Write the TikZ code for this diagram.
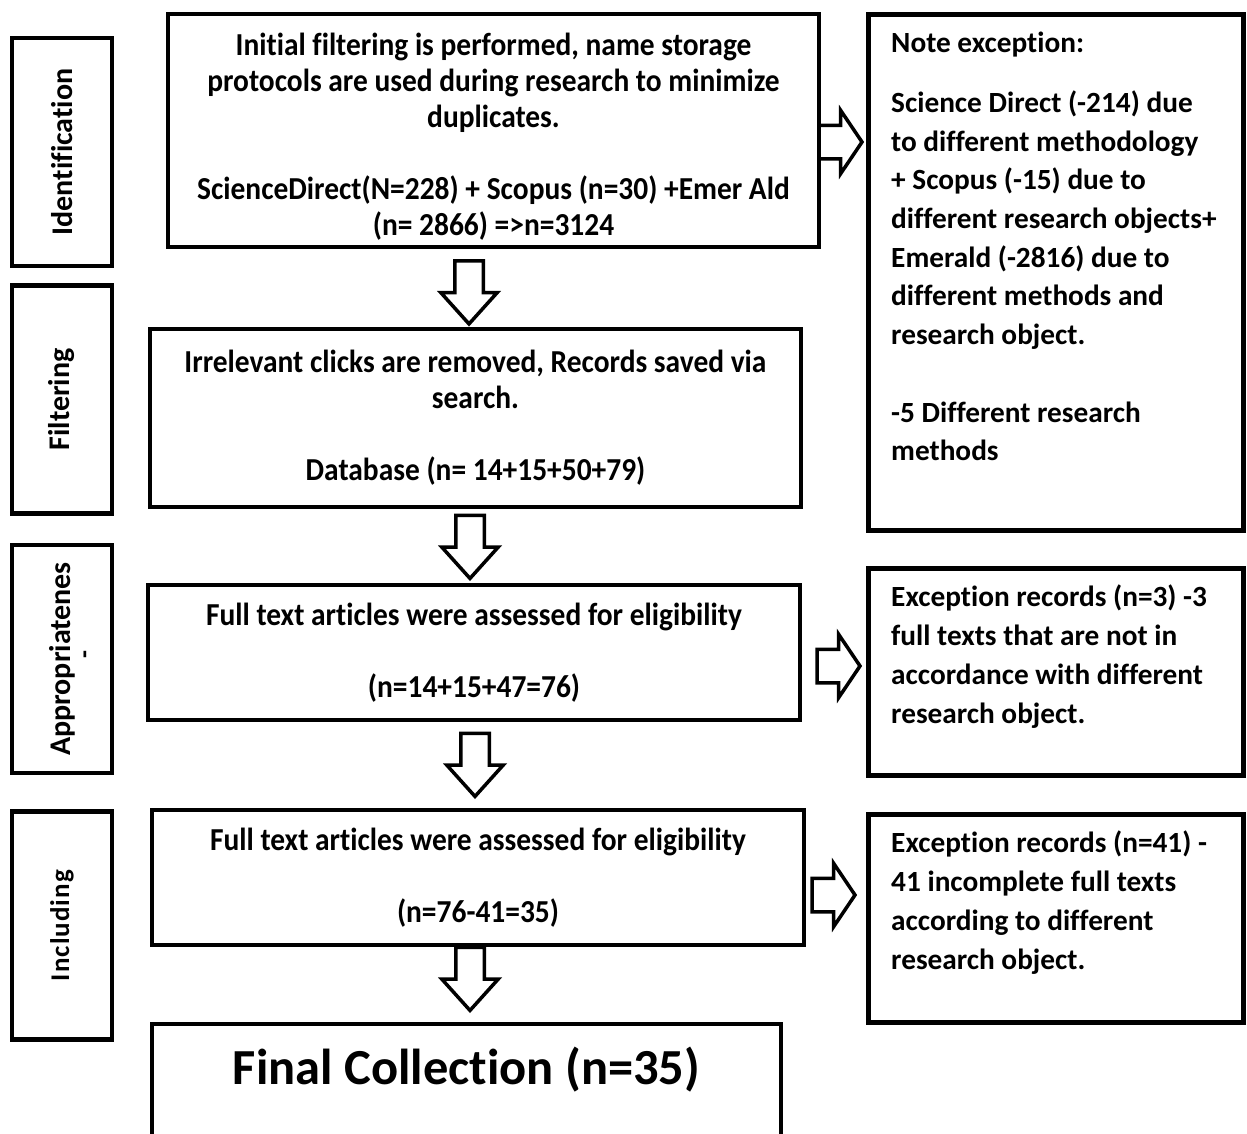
\documentclass[tikz,border=0pt]{standalone}
\usepackage{fontspec}
\setmainfont{Carlito}[Ligatures={NoCommon}]
\newfontfamily\narrowfont{Carlito}[FakeStretch=0.92, Ligatures={NoCommon}]
\usetikzlibrary{positioning}
\usetikzlibrary{calc}
\usetikzlibrary{shapes.arrows}
\tikzset{node distance=20pt, every text node part/.style={align=center}}
\tikzstyle{stagebox} = [draw, line width=4.5pt, rotate=90, minimum width=228pt, minimum height=100pt, inner sep=0pt, font={\fontsize{30}{34}\selectfont\bfseries}]
\tikzstyle{mainbox} = [draw, line width=4.5pt, inner sep=0pt, font={\narrowfont\fontsize{32}{36}\selectfont\bfseries}]
\tikzstyle{notebox} = [draw, line width=4.5pt, minimum width=375pt, inner sep=0pt]
\tikzstyle{notetext} = [anchor=north west, inner sep=0pt, every text node part/.style={align=left}, font={\fontsize{29.3}{38.7}\selectfont\bfseries}]
\tikzstyle{dnarrow} = [single arrow, draw, line width=3.5pt, rotate=-90, minimum height=63pt, inner xsep=0pt, inner ysep=12.5pt, single arrow head extend=14pt, single arrow tip angle=84]
\tikzstyle{rtarrow} = [single arrow, draw, line width=3.5pt, anchor=west, minimum height=43pt, inner xsep=0pt, inner ysep=15pt, single arrow head extend=15pt, single arrow tip angle=112]

\begin{document}
\begin{tikzpicture}[x=1pt, y=-1pt]
      \useasboundingbox (0,0) rectangle (1247,1133);
      \clip (0,0) rectangle (1247,1133);
      % stages
      \node[stagebox]          (sid)   at (62,152)     {Identification};
      \node[stagebox]          (sfil)  at (62,399.5)   {Filtering};
      \node[stagebox]          (sapp)  at (62,659)     {Appropriatenes};
      \node[stagebox, font={\fontsize{27}{30}\selectfont\bfseries\addfontfeatures{LetterSpace=4}}] (sinc) at (62,925.5) {Including};
      \node[rotate=90, inner sep=0pt, font={\fontsize{26}{30}\selectfont\bfseries}] (sdash) at ([xshift=26pt, yshift=4pt]sapp.center) {-};
      % main column
      \node[mainbox, minimum width=651pt, minimum height=233pt] (ident) at (493.5,130.5)
           {\rule{0pt}{34pt}Initial filtering is performed, name storage\\protocols are used during research to minimize\\duplicates.\\[36pt]ScienceDirect(N=228) + Scopus (n=30) +Emer Ald\\(n= 2866) =>n=3124};
      \node[mainbox, minimum width=651pt, minimum height=178pt] (filt) [below=77.5pt of ident, xshift=-18pt]
           {Irrelevant clicks are removed, Records saved via\\search.\\[36pt]Database (n= 14+15+50+79)};
      \node[mainbox, minimum width=652pt, minimum height=135pt] (appr) [below=73.5pt of filt, xshift=-1.5pt]
           {Full text articles were assessed for eligibility\\[36pt](n=14+15+47=76)};
      \node[mainbox, minimum width=652pt, minimum height=135pt] (incl) [below=85.5pt of appr, xshift=4pt]
           {Full text articles were assessed for eligibility\\[36pt](n=76-41=35)};
      \node[mainbox, minimum width=629pt, inner ysep=19pt, text height=41pt, text depth=60pt, font={\fontsize{50.5}{56}\selectfont\bfseries}] (final) [below=74.5pt of incl, xshift=-11.5pt]
           {Final Collection (n=35)};
      % exclusions
      \node[notebox, minimum height=516pt, anchor=north west] (excl) at (866,12) {};
      \node[notebox, minimum height=207pt] (exa) [below=33.5pt of excl] {};
      \node[notebox, minimum height=208pt] (exb) [below=34.5pt of exa] {};
      \node[notetext] (excltext) at ([xshift=25pt, yshift=-20pt]excl.north west)
           {Note exception:\\[21pt]Science Direct (-214) due\\to different methodology\\+ Scopus (-15) due to\\different research objects+\\Emerald (-2816) due to\\different methods and\\research object.\\[38.7pt]-5 Different research\\methods};
      \node[notetext] (exatext) at ([xshift=25pt, yshift=-19pt]exa.north west)
           {Exception records (n=3) -3\\full texts that are not in\\accordance with different\\research object.};
      \node[notetext] (exbtext) at ([xshift=25pt, yshift=-19pt]exb.north west)
           {Exception records (n=41) -\\41 incomplete full texts\\according to different\\research object.};
      % block arrows
      \node[dnarrow] (down1) at ($(ident.south)!0.5!(filt.north)+(-15.5,-3.5)$) {};
      \node[dnarrow] (down2) at ($(filt.south)!0.5!(appr.north)+(-4.75,-7)$) {};
      \node[dnarrow] (down3) at ($(appr.south)!0.5!(incl.north)+(-1,-8)$) {};
      \node[dnarrow] (down4) at ($(incl.south)!0.5!(final.north)+(-2.25,-13.5)$) {};
      \node[rtarrow] (side1) at (ident.east) [xshift=-4pt, yshift=-11.5pt] {};
      \node[rtarrow] (side2) at (appr.east) [xshift=13pt, yshift=-13.5pt] {};
      \node[rtarrow] (side3) at (incl.east) [xshift=4pt, yshift=-17.5pt] {};
    \end{tikzpicture}
\end{document}
